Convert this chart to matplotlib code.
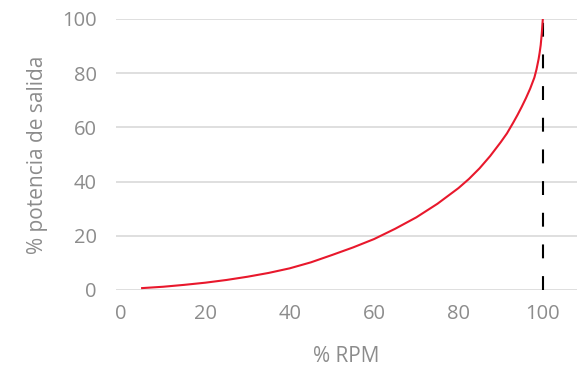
import matplotlib.pyplot as plt

plt.rcParams['font.family'] = ['Open Sans', 'DejaVu Sans']
plt.rcParams['lines.scale_dashes'] = False

# % RPM vs % potencia de salida
rpm = [5, 10, 15, 20, 25, 30, 35, 40, 45, 50, 55, 60, 65, 70, 75, 80, 82.5, 85, 87.5, 90,
       91.5, 93, 94, 95, 96, 97, 98, 98.5, 99, 99.25, 99.5, 99.75, 100]
potencia = [0.7, 1.2, 1.9, 2.7, 3.7, 4.9, 6.3, 8.0, 10.2, 12.9, 15.7, 18.8, 22.6, 26.8, 31.8,
            37.6, 41.0, 44.9, 49.4, 54.5, 57.8, 61.8, 64.6, 67.6, 70.8, 74.3, 78.4, 81.4, 85.2,
            87.6, 90.4, 94.6, 100]

limite_x = [100, 100]
limite_y = [0, 100]

gris = '#8c8c8c'

fig = plt.figure(figsize=(5.8, 3.74), dpi=100)
ax = fig.add_axes([0.2, 0.2246, 0.7948, 0.7246])

ax.plot(limite_x, limite_y, color='black', lw=1.5, dashes=(10, 12.8))
ax.plot(rpm, potencia, color='#e8182c', lw=1.5, solid_joinstyle='round')

ax.set_xlim(-1.19, 108.1)
ax.set_ylim(0, 100)
ax.set_xticks([0, 20, 40, 60, 80, 100])
ax.set_yticks([0, 20, 40, 60, 80, 100])
ax.grid(axis='y', color='#d9d9d9', lw=1.2)
ax.set_axisbelow(True)
for s in ax.spines.values():
    s.set_visible(False)
ax.tick_params(length=0, labelsize=14.5, labelcolor=gris)
ax.tick_params(axis='y', pad=14)
ax.tick_params(axis='x', pad=10)

ax.set_xlabel('% RPM', fontsize=15, color=gris, labelpad=16)
ax.set_ylabel('% potencia de salida', fontsize=15, color=gris, labelpad=10)

plt.savefig('out.png', dpi=100)
